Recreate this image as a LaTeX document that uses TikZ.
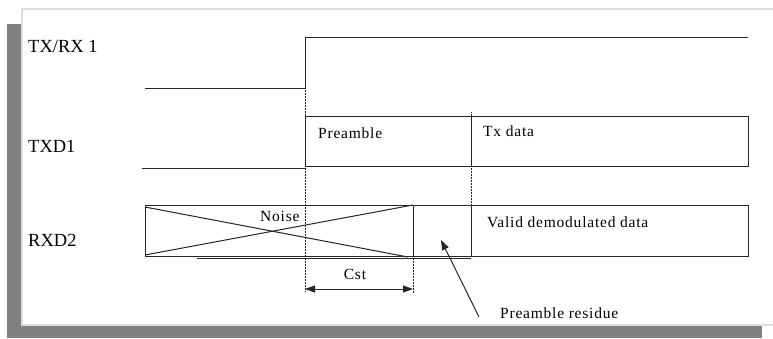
\documentclass[tikz,border=0pt]{standalone}
\usepackage{fontspec}
\setmainfont{Liberation Serif}
\newfontfamily\spaziato[LetterSpace=5]{Liberation Serif}
\usetikzlibrary{arrows.meta}
\definecolor{ombra}{gray}{0.5}
\definecolor{bordo}{gray}{0.87}
\definecolor{linea}{gray}{0.15}
\tikzset{
  segnale/.style={draw=linea,line width=1pt},
  guida/.style={draw=linea,densely dotted,line width=0.5pt},
  etichetta/.style={anchor=west,inner sep=0pt,font=\rmfamily\fontsize{18.5}{20}\selectfont},
  testo/.style={anchor=west,inner sep=0pt},
  freccia/.style={segnale,-{Triangle[length=10pt,width=7pt]}},
}
\begin{document}
\begin{tikzpicture}[x=1pt,y=-1pt,font=\spaziato\fontsize{15.5}{17}\selectfont]
\useasboundingbox (0,0) rectangle (773,338);

% cornice con ombra
\fill[ombra] (7,24) rectangle (762,338);
\filldraw[fill=white,draw=bordo,line width=1.5pt] (22,9) rectangle (790,325);

% tempi
\coordinate (t0) at (305,0);
\coordinate (t1) at (413,0);
\coordinate (t2) at (471,0);

% TX/RX 1
\node[etichetta] (trx) at (28,46) {TX/RX 1};
\draw[segnale] (145,88) -- (t0 |- 0,88) -- (t0 |- 0,37) -- (748,37);

% TXD1
\node[etichetta] (txd) at (28,146) {TXD1};
\draw[segnale] (142,168) -- (t0 |- 0,168);
\draw[segnale] (t0 |- 0,116) rectangle (748,166);
\draw[segnale] (t2 |- 0,116) -- (t2 |- 0,166);
\node[testo] (pre) at (318,133) {Preamble};
\node[testo] (txdata) at (483,131) {Tx data};

% RXD2
\node[etichetta] (rxd) at (28,240) {RXD2};
\draw[segnale] (145,205) rectangle (748,256);
\draw[segnale] (t1 |- 0,205) -- (t1 |- 0,256);
\draw[segnale] (t2 |- 0,205) -- (t2 |- 0,256);
\draw[segnale] (145,207) -- (408,257); % rumore
\draw[segnale] (145,255) -- (t1 |- 0,205);
\draw[segnale] (197,258.5) -- (t2 |- 0,258.5);
\node[testo] (noise) at (260,216) {Noise};
\node[testo] (valid) at (487,222) {Valid demodulated data};

% linee guida
\draw[guida] (t0 |- 0,88) -- (t0 |- 0,292);
\draw[guida] (t1 |- 0,256) -- (t1 |- 0,293);
\draw[guida] (t2 |- 0,112) -- (t2 |- 0,205);

% Cst
\coordinate (cst1) at (t0 |- 0,289);
\coordinate (cst2) at (t1 |- 0,289);
\draw[segnale,{Triangle[length=10pt,width=7pt]}-{Triangle[length=10pt,width=7pt]}] (cst1) -- (cst2);
\node (cst) at (355,274) {Cst};

% residuo
\node[testo] (res) at (500,313) {Preamble residue};
\coordinate (coda) at (479,317);
\coordinate (punta) at (441,240);
\draw[freccia] (coda) -- (punta);

\end{tikzpicture}
\end{document}
